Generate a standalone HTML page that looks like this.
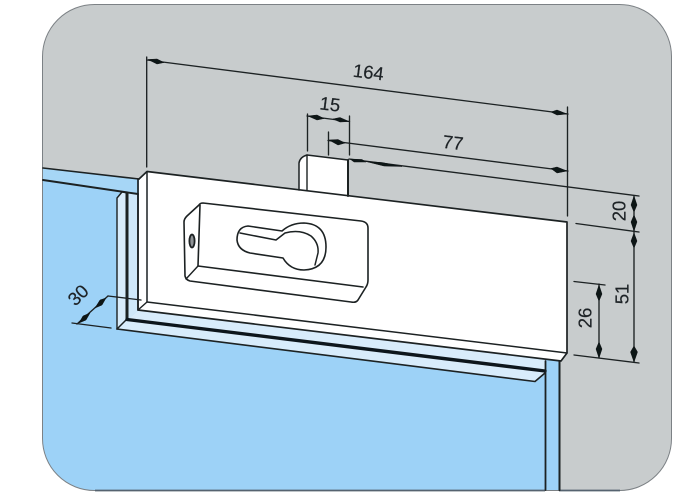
<!DOCTYPE html>
<html>
<head>
<meta charset="utf-8">
<style>
html,body{margin:0;padding:0;background:#fff;width:700px;height:502px;overflow:hidden}
svg{display:block}
text{font-family:"Liberation Sans",sans-serif;font-size:18.5px;fill:#1f2326;stroke:#1f2326;stroke-width:.2;text-anchor:middle;dominant-baseline:central}
</style>
</head>
<body>
<svg width="700" height="502" viewBox="0 0 700 502" xmlns="http://www.w3.org/2000/svg">
<defs>
<clipPath id="f"><rect x="42.5" y="4.5" width="629" height="486" rx="52" ry="52"/></clipPath>
<filter id="b" x="0" y="0" width="100%" height="100%"><feGaussianBlur stdDeviation="0.35"/></filter>
</defs>
<g filter="url(#b)">
<g clip-path="url(#f)">
<rect x="40" y="0" width="640" height="500" fill="#c8cccd"/>
<polygon points="40,168 139,179 139,300 560,361 545,361 559,361 559,500 40,500" fill="#9dd2f7"/>
<polygon points="40,168 139,179 139,195 40,180" fill="#a6d6f6"/>
<polygon points="545,355 559,355 559,500 545,500" fill="#9dd2f7"/>
<polygon points="117,198 122,192 127,193 127,320 117,329" fill="#d8ecfb"/>
<polygon points="127,193 139,195 139,310 127,320" fill="#cfe8fa"/>
<polygon points="127,320 139,310 546,360 546,372 536,382 117,329" fill="#d8ecfb"/>
<path d="M299,192 V162 Q300,157 307,155 L348,160 V198 Z" fill="#fff"/>
<polygon points="147,171.5 567,222 567,353 561,361 138,310 139,179" fill="#fff"/>
</g>
<rect x="42.5" y="4.5" width="629" height="486" rx="52" ry="52" fill="none" stroke="#7c8185" stroke-width="1"/>
<path d="M95,490.5 H545 M559,490.5 H620" stroke="#56636f" stroke-width="1.8" fill="none"/>

<g fill="none" stroke="#1c2024" stroke-linejoin="round" stroke-linecap="round">
<path d="M43,168 L139,179" stroke-width="1.6"/>
<path d="M43,180 L138,194" stroke-width="1.9"/>
<path d="M117,329 V198 L122,192 L127,193" stroke-width="1.4"/>
<path d="M127,193 V319" stroke-width="3"/>
<path d="M117,329 L127,319" stroke-width="1.5"/>
<path d="M138,194 V310" stroke-width="1.6"/>
<path d="M127,319.5 L545,371" stroke-width="3.4" stroke="#10151a"/>
<path d="M117,329 L535,381.5 L545,373" stroke-width="1.6"/>
<path d="M545.5,361 V490" stroke-width="1.8"/>
<path d="M559.5,361 V490" stroke-width="2"/>
<path d="M139,179 L147,171.5 L567,222 V353 L561,361 L138,310 V179" stroke-width="1.7"/>
<path d="M147,172 V302 L567,353" stroke-width="1.5"/>
<path d="M147,302 L138,310" stroke-width="1.4"/>
<path d="M299,190 V163 Q300,157 307,155 L348,160 V196" stroke-width="1.5"/>
<path d="M348,160 V196" stroke-width="2"/>
<path d="M307,155 V190.5" stroke-width="1.4"/>
<path d="M203,203 L361,221 Q368,222 368,228 V280 Q368,284 366,287 L358,300 Q356,303 351,302 L190,281 Q186,280 185,276 L184,222 Q184,219 187,216 L199,205 Q200,203 203,203 Z" stroke-width="1.6"/>
<path d="M200,205 L198,266 L363,287" stroke-width="1.6"/>
<path d="M198,266 L186,279" stroke-width="1.4"/>
<path d="M282,231 L248,226 Q237,227 237,240 Q238,250 250,253 L283,258 Q290,270 304,270 Q326,269 326,247 Q326,224 304,223 Q291,223 282,231 Z" stroke-width="1.6"/>
<path d="M240,233 L276,240 L285,233 Q300,229 311,236 Q319,243 318,253 L315,265" stroke-width="1.5"/>
<ellipse cx="192" cy="241" rx="2.6" ry="6.5" stroke-width="1.8" fill="#8f9396"/>
<g stroke-width="1.35">
<path d="M146.7,57 V167"/>
<path d="M147,60 L568,114"/>
<path d="M567.5,107 V216"/>
<path d="M307.5,114 V151"/>
<path d="M349.5,116 V155"/>
<path d="M307,116 L349.5,121.5"/>
<path d="M328.5,132 V155"/>
<path d="M328,140.5 L568,171"/>
<path d="M349,159 L639,196"/>
<path d="M576,223.5 L639,232"/>
<path d="M634,196 V362"/>
<path d="M574,355 L639,363"/>
<path d="M574,281.5 L605,285"/>
<path d="M599,284 V358"/>
<path d="M108,296 L141,300"/>
<path d="M108,296 L77,324"/>
<path d="M72,323 L111,328"/>
</g>
</g>
<g fill="#101316" stroke="#101316" stroke-width=".5" stroke-linejoin="round">
<polygon points="148,59.5 157,59 164,62.5 157,64"/>
<polygon points="567,114 557,110 551,112 557,115"/>
<polygon points="308,116 317,115 324,118.5 317,120"/>
<polygon points="349,121.5 340,117.5 333,119 340,122"/>
<polygon points="329,140 338,139.5 345,143 338,145"/>
<polygon points="567,171 557,167 551,168.5 557,173"/>
<polygon points="350,159 362,159.5 366,162 354,162"/>
<polygon points="366,161.5 382,162.5 402,166.5 384,166"/>
<polygon points="634,196 637,205 634,212 631,205"/>
<polygon points="634,231 637,222 634,215 631,222"/>
<polygon points="634,233 637,241 634,248 631,241"/>
<polygon points="634,362 637.5,352 634,346 630.5,352"/>
<polygon points="599,285 602,294 599,301 596,294"/>
<polygon points="599,358 602,349 599,342 596,349"/>
<polygon points="106,298 100,300 95,308 102,305"/>
<polygon points="79,323 86,320 90,313 83,316"/>
</g>
<text x="368.5" y="72" transform="rotate(7 368.5 72)">164</text>
<text x="330" y="104" transform="rotate(7 330 104)">15</text>
<text x="453" y="142.5" transform="rotate(7 453 142.5)">77</text>
<text x="619" y="211" transform="rotate(-90 619 211)">20</text>
<text x="622" y="294" transform="rotate(-90 622 294)">51</text>
<text x="585" y="318" transform="rotate(-90 585 318)">26</text>
<text x="78" y="295" transform="rotate(-45 78 295)">30</text>
</g>
</svg>
</body>
</html>
